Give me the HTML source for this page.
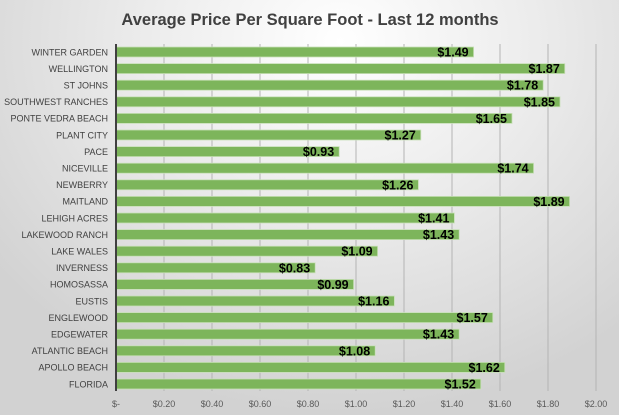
<!DOCTYPE html>
<html><head><style>
html,body{margin:0;padding:0;}
body{width:619px;height:415px;overflow:hidden;background:radial-gradient(ellipse 70% 90% at 55% 10%,#ffffff 0%,#ececec 45%,#d2d2d2 100%);font-family:"Liberation Sans",sans-serif;}
</style></head><body>
<svg width="619" height="415" xmlns="http://www.w3.org/2000/svg" style="position:absolute;left:0;top:0">
<text x="310" y="25" text-anchor="middle" font-size="16.5" font-weight="bold" fill="#404040" font-family="Liberation Sans, sans-serif">Average Price Per Square Foot  - Last 12 months</text>
<g id="grid" stroke="#b4b4b4" stroke-width="1"></g>
<g id="bars"></g>
<line x1="116" y1="44" x2="116" y2="391" stroke="#404040" stroke-width="2"/>
<g id="ticks" font-size="9" fill="#595959" text-anchor="middle"></g>
</svg>
<script>
var d=[["WINTER GARDEN",1.49],["WELLINGTON",1.87],["ST JOHNS",1.78],["SOUTHWEST RANCHES",1.85],["PONTE VEDRA BEACH",1.65],["PLANT CITY",1.27],["PACE",0.93],["NICEVILLE",1.74],["NEWBERRY",1.26],["MAITLAND",1.89],["LEHIGH ACRES",1.41],["LAKEWOOD RANCH",1.43],["LAKE WALES",1.09],["INVERNESS",0.83],["HOMOSASSA",0.99],["EUSTIS",1.16],["ENGLEWOOD",1.57],["EDGEWATER",1.43],["ATLANTIC BEACH",1.08],["APOLLO BEACH",1.62],["FLORIDA",1.52]];
var ns="http://www.w3.org/2000/svg",x0=116,k=240,svg=document.querySelector('svg');
function el(t,a,p,txt){var e=document.createElementNS(ns,t);for(var i in a)e.setAttribute(i,a[i]);if(txt!=null)e.textContent=txt;(p||svg).appendChild(e);return e;}
var g=document.getElementById('grid'),b=document.getElementById('bars'),tk=document.getElementById('ticks');
for(var i=1;i<=10;i++){var x=x0+i*0.2*k;el('line',{x1:x,y1:44,x2:x,y2:391},g);}
for(var i=0;i<=10;i++){var x=x0+i*0.2*k;el('text',{x:x,y:407},tk,i==0?'$-':'$'+(i*0.2).toFixed(2));}
d.forEach(function(r,i){var cy=52+i*16.6,w=r[1]*k;
el('rect',{x:x0,y:cy-5,width:w,height:10,fill:'#7db55b',stroke:'#c8e0b8','stroke-width':0.8},b);
el('text',{x:108,y:cy+3.3,'text-anchor':'end','font-size':'9',fill:'#404040'},b,r[0]);
el('text',{x:x0+w-5,y:cy+4.5,'text-anchor':'end','font-size':'12.5','font-weight':'bold',fill:'#000'},b,'$'+r[1].toFixed(2));
});
</script>
</body></html>
